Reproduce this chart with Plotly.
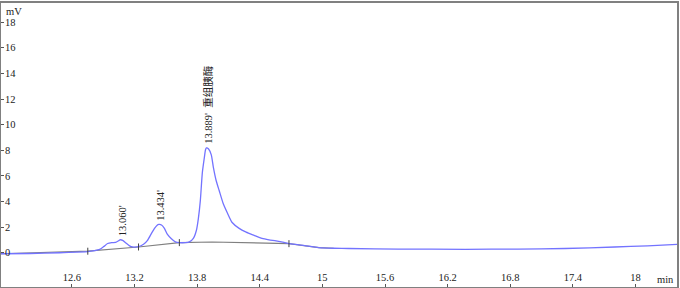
import plotly.graph_objects as go

# Chromatogram signal (min, mV)
time = [11.913, 12.199, 12.485, 12.753, 12.819, 12.867, 12.905, 12.943, 12.982, 13.020,
        13.048, 13.060, 13.087, 13.115, 13.153, 13.182, 13.239, 13.287, 13.325, 13.363,
        13.392, 13.415, 13.434, 13.459, 13.487, 13.516, 13.554, 13.592, 13.630, 13.688,
        13.726, 13.764, 13.793, 13.812, 13.831, 13.850, 13.869, 13.880, 13.889, 13.910,
        13.936, 13.955, 13.983, 14.012, 14.050, 14.088, 14.136, 14.203, 14.270, 14.346,
        14.422, 14.489, 14.556, 14.632, 14.680, 14.775, 14.842, 14.966, 15.109, 15.252,
        15.729, 16.369, 16.874, 17.323, 17.800, 18.115, 18.401]
signal = [-0.08, -0.06, 0.00, 0.08, 0.16, 0.26, 0.48, 0.72, 0.79, 0.81,
          0.93, 1.01, 0.97, 0.78, 0.54, 0.45, 0.47, 0.66, 0.97, 1.51,
          1.90, 2.13, 2.21, 2.17, 1.90, 1.43, 1.09, 0.85, 0.79, 0.79,
          0.85, 1.12, 1.74, 2.67, 4.07, 6.24, 7.40, 8.02, 8.18, 8.10,
          7.64, 6.71, 5.62, 4.84, 3.84, 3.14, 2.36, 1.90, 1.61, 1.36,
          1.12, 1.01, 0.93, 0.81, 0.71, 0.62, 0.54, 0.40, 0.35, 0.33,
          0.29, 0.27, 0.29, 0.33, 0.45, 0.54, 0.66]

# Integration baseline
base_time = [11.913, 12.753, 13.239, 13.630, 13.945, 14.298, 14.680, 14.966, 15.109]
base_value = [-0.08, 0.12, 0.45, 0.79, 0.84, 0.80, 0.71, 0.40, 0.35]
# Baseline drop points (integration marks)
mark_time = [12.753, 13.239, 13.630, 14.680]
mark_value = [0.12, 0.45, 0.79, 0.71]

# Peak labels
peak_time = [13.060, 13.434, 13.889]
peak_height = [1.01, 2.21, 8.18]
peak_label = ["13.060'", "13.434'", "13.889'  重组胰酶"]

x_ticks = [12.6, 13.2, 13.8, 14.4, 15.0, 15.6, 16.2, 16.8, 17.4, 18.0]
x_ticktext = ["12.6", "13.2", "13.8", "14.4", "15", "15.6", "16.2", "16.8", "17.4", "18"]
y_ticks = [-2, 0, 2, 4, 6, 8, 10, 12, 14, 16, 18]

FONT = "Liberation Serif, Times New Roman, serif"

fig = go.Figure()
fig.add_trace(go.Scatter(x=base_time, y=base_value, mode="lines",
                         line=dict(color="#808080", width=1.2), hoverinfo="skip"))
fig.add_trace(go.Scatter(x=time, y=signal, mode="lines",
                         line=dict(color="#7373ff", width=1.3, shape="spline", smoothing=0.6)))
fig.add_trace(go.Scatter(x=mark_time, y=mark_value, mode="markers",
                         marker=dict(symbol="line-ns", size=5,
                                     line=dict(color="#404040", width=1))))

for t, h, lab in zip(peak_time, peak_height, peak_label):
    fig.add_annotation(x=t, y=h, text=lab, textangle=-90, showarrow=False,
                       xanchor="center", yanchor="bottom", xshift=2, yshift=2,
                       font=dict(family="Liberation Serif, Noto Sans CJK SC, serif",
                                 size=10.5, color="#222"))

fig.add_annotation(x=0.004, y=0.998, xref="paper", yref="paper", text="mV",
                   showarrow=False, xanchor="left", yanchor="top",
                   font=dict(family=FONT, size=10.5, color="#222"))
fig.add_annotation(x=0.998, y=0.0, xref="paper", yref="paper", text="min",
                   showarrow=False, xanchor="right", yanchor="bottom",
                   font=dict(family=FONT, size=10.5, color="#222"))

fig.update_layout(
    width=680, height=288,
    margin=dict(l=1, r=1, t=1, b=1),
    paper_bgcolor="white", plot_bgcolor="white",
    showlegend=False,
    xaxis=dict(range=[11.9216, 18.397], tickvals=x_ticks, ticktext=x_ticktext,
               ticks="inside", ticklen=3, tickcolor="#555",
               ticklabelposition="inside", showgrid=False, zeroline=False,
               showline=True, mirror=True, linecolor="#808080", linewidth=2,
               tickfont=dict(family=FONT, size=10.5, color="#222")),
    yaxis=dict(range=[-2.674, 19.496], tickvals=y_ticks,
               ticks="inside", ticklen=3, tickcolor="#555",
               ticklabelposition="inside", showgrid=False, zeroline=False,
               showline=True, mirror=True, linecolor="#808080", linewidth=2,
               tickfont=dict(family=FONT, size=10.5, color="#222")),
)

fig.write_html("out.html")
